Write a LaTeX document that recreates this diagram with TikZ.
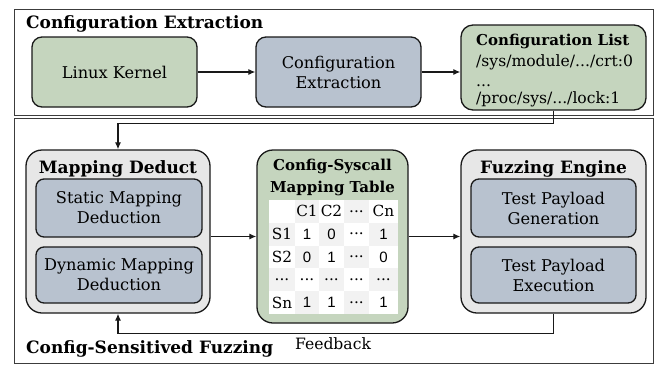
\documentclass[tikz,border=0pt]{standalone}
\usepackage{fontspec}
\setmainfont{DejaVu Serif}
\newfontfamily\numfont{Liberation Sans}
\usetikzlibrary{arrows.meta,calc}
\definecolor{boxgreen}{RGB}{197,213,190}
\definecolor{boxblue}{RGB}{184,194,207}
\definecolor{outergray}{RGB}{231,231,231}
\definecolor{cellgray}{RGB}{242,242,242}
\definecolor{edge}{RGB}{25,25,25}
\definecolor{framec}{RGB}{60,60,60}
\begin{document}
\begin{tikzpicture}[x=1pt,y=-1pt,
  box/.style={draw=edge,line width=1.3pt,rounded corners=10pt,inner sep=0pt,align=center,
    font=\fontsize{16.2}{20}\selectfont},
  greenbox/.style={box,fill=boxgreen},
  bluebox/.style={box,fill=boxblue,rounded corners=8pt},
  outerbox/.style={box,fill=outergray,rounded corners=16pt},
  frame/.style={draw=framec,line width=1pt},
  arr/.style={draw=edge,line width=1.2pt,-{Latex[length=7pt,width=6pt]}},
  title/.style={font=\fontsize{17}{19}\selectfont\bfseries,inner sep=0pt},
  subtitle/.style={font=\fontsize{15}{17}\selectfont\bfseries,inner sep=0pt},
  plain/.style={font=\fontsize{15.6}{18}\selectfont,inner sep=0pt},
  fbtext/.style={font=\fontsize{15.6}{18}\selectfont,inner sep=0pt},
  lbl/.style={font=\fontsize{15.3}{17}\selectfont,inner sep=0pt},
  num/.style={font=\fontsize{15}{17}\selectfont\numfont,inner sep=0pt}
]
\useasboundingbox (0,0) rectangle (670,365);
\fill[white] (0,0) rectangle (670,365);

% frames
\draw[frame] (14,9) rectangle (653,115);
\draw[frame] (14,118) rectangle (653,363);

% top section
\node[title,anchor=base west] (t1) at (26,28) {Configuration Extraction};
\node[greenbox,minimum width=165pt,minimum height=70pt] (lk) at (114.5,72) {Linux Kernel};
\node[bluebox,rounded corners=10pt,minimum width=165pt,minimum height=70pt] (ce) at (338.5,72) {Configuration\\Extraction};
\node[greenbox,rounded corners=12pt,minimum width=185pt,minimum height=85pt] (cl) at (553.5,67.5) {};
\node[subtitle,anchor=base west] (clt) at (476,45) {Configuration List};
\node[plain,anchor=base west] (cl1) at (476,66) {/sys/module/.../crt:0};
\node[plain,anchor=base west] (cl2) at (476,86) {...};
\node[plain,anchor=base west] (cl3) at (476,103) {/proc/sys/.../lock:1};

\draw[arr] (lk.east) -- (ce.west);
\draw[arr] (ce.east) -- (ce.east -| cl.west);

% bottom section
\node[outerbox,minimum width=184pt,minimum height=163pt] (md) at (118,231.5) {};
\node[title,anchor=base] (mdt) at (118,173) {Mapping Deduct};
\node[bluebox,minimum width=166pt,minimum height=58pt] (smd) at (119,208) {Static Mapping\\Deduction};
\node[bluebox,minimum width=166pt,minimum height=56pt] (dmd) at (119,275) {Dynamic Mapping\\Deduction};

\node[greenbox,rounded corners=16pt,minimum width=151pt,minimum height=173pt] (tb) at (332.5,236.5) {};
\node[subtitle,anchor=base] (tbt1) at (332.5,170) {Config-Syscall};
\node[subtitle,anchor=base] (tbt2) at (332.5,192) {Mapping Table};

\fill[white] (269,200) rectangle (398,314);
\foreach \r/\ya/\yb in {0/200/222.8,1/222.8/245.6,2/245.6/268.4,3/268.4/291.2,4/291.2/314}{
  \foreach \c/\xa/\xb in {0/269/295,1/295/319,2/319/344,3/344/369,4/369/398}{
    \pgfmathtruncatemacro\parity{mod(\r+\c,2)}
    \ifnum\parity=1 \fill[cellgray] (\xa,\ya) rectangle (\xb,\yb); \fi
  }
}
% header
\node[lbl] (h1) at (307,211.4) {C1};
\node[lbl] (h2) at (331.5,211.4) {C2};
\node[lbl] (h3) at (356.5,211.4) {...};
\node[lbl] (h4) at (383.5,211.4) {Cn};
% row S1
\node[lbl] (s1) at (282,234.2) {S1};
\node[num] (a11) at (307,234.2) {1};
\node[num] (a12) at (331.5,234.2) {0};
\node[lbl] (a13) at (356.5,234.2) {...};
\node[num] (a14) at (383.5,234.2) {1};
% row S2
\node[lbl] (s2) at (282,257) {S2};
\node[num] (a21) at (307,257) {0};
\node[num] (a22) at (331.5,257) {1};
\node[lbl] (a23) at (356.5,257) {...};
\node[num] (a24) at (383.5,257) {0};
% row dots
\node[lbl] (s3) at (282,279.8) {...};
\node[lbl] (a31) at (307,279.8) {...};
\node[lbl] (a32) at (331.5,279.8) {...};
\node[lbl] (a33) at (356.5,279.8) {...};
\node[lbl] (a34) at (383.5,279.8) {...};
% row Sn
\node[lbl] (s4) at (282,302.6) {Sn};
\node[num] (a41) at (307,302.6) {1};
\node[num] (a42) at (331.5,302.6) {1};
\node[lbl] (a43) at (356.5,302.6) {...};
\node[num] (a44) at (383.5,302.6) {1};

\node[outerbox,minimum width=185pt,minimum height=163pt] (fe) at (553.5,231.5) {};
\node[title,anchor=base] (fet) at (553.5,173) {Fuzzing Engine};
\node[bluebox,minimum width=165pt,minimum height=58pt] (gen) at (553.5,208) {Test Payload\\Generation};
\node[bluebox,minimum width=165pt,minimum height=56pt] (exe) at (553.5,275) {Test Payload\\Execution};

\node[title,anchor=base west] (t2) at (26,353) {Config-Sensitived Fuzzing};
\node[fbtext,anchor=base] (fb) at (333,349) {Feedback};

% connectors
\draw[arr] (cl.south) -- ++(0,13) -| (md.north);
\draw[arr] (md.east |- tb.west) -- (tb.west);
\draw[arr] (tb.east) -- (tb.east -| fe.west);
\draw[arr] (fe.south) -- ++(0,20) -| (md.south);
\end{tikzpicture}
\end{document}
